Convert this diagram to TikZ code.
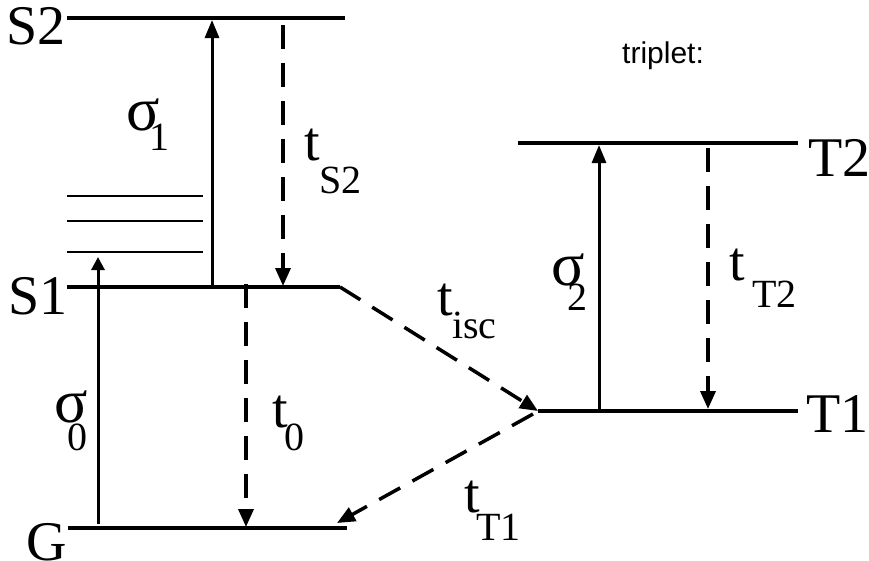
\documentclass[tikz,border=0pt]{standalone}
\usepackage{fontspec}
\setmainfont{Liberation Serif}
\newfontfamily\labsans{Liberation Sans}
\usetikzlibrary{arrows.meta}
\newcommand{\bigf}{\fontsize{56}{56}\selectfont}
\newcommand{\sigf}{\fontsize{62}{62}\selectfont}
\newcommand{\subf}{\fontsize{40}{40}\selectfont}
\newcommand{\lbl}[4]{\rlap{#1}\hspace*{#2pt}\raisebox{-#3pt}{\subf #4}}
\begin{document}
\begin{tikzpicture}[x=1pt,y=-1pt,
  level/.style={line width=3.5pt},
  vib/.style={line width=1.2pt},
  up/.style={line width=3pt,-{Triangle[length=18pt,width=14pt]}},
  upsmall/.style={line width=3pt,-{Triangle[length=13pt,width=13pt]}},
  down/.style={line width=3.5pt,dash pattern=on 24pt off 14pt,-{Triangle[length=18pt,width=15pt]}},
  txt/.style={inner sep=0pt,anchor=base west},
  txtr/.style={inner sep=0pt,anchor=base east}]
\useasboundingbox (0,0) rectangle (869,560);
% level end points
\coordinate (S2l) at (67,18);  \coordinate (S2r) at (345,18);
\coordinate (S1l) at (67,287); \coordinate (S1r) at (340,287);
\coordinate (Gl) at (68,528);  \coordinate (Gr) at (347,528);
\coordinate (T2l) at (518,143); \coordinate (T2r) at (798,143);
\coordinate (T1l) at (538,411); \coordinate (T1r) at (798,411);
\coordinate (V1l) at (67,196); \coordinate (V1r) at (203,196);
\coordinate (V2l) at (67,221); \coordinate (V2r) at (203,221);
\coordinate (V3l) at (67,252); \coordinate (V3r) at (203,252);
% levels
\draw[level] (S2l) -- (S2r);
\draw[level] (S1l) -- (S1r);
\draw[level] (Gl) -- (Gr);
\draw[level] (T2l) -- (T2r);
\draw[level] (T1l) -- (T1r);
\draw[vib] (V1l) -- (V1r);
\draw[vib] (V2l) -- (V2r);
\draw[vib] (V3l) -- (V3r);
% transition end points
\coordinate (a0s) at (98,524);  \coordinate (a0e) at (98,257);
\coordinate (a1s) at (212,287); \coordinate (a1e) at (212,20);
\coordinate (d2s) at (283,25);  \coordinate (d2e) at (283,286);
\coordinate (d0s) at (246,284); \coordinate (d0e) at (246,527);
\coordinate (dTs) at (533,414); \coordinate (dTe) at (337,523);
\coordinate (a2s) at (599,411); \coordinate (a2e) at (599,145);
\coordinate (dT2s) at (708,148); \coordinate (dT2e) at (708,409);
% transitions
\draw[upsmall] (a0s) -- (a0e);
\draw[up] (a1s) -- (a1e);
\draw[down] (d2s) -- (d2e);
\draw[down] (d0s) -- (d0e);
\draw[down] (S1r) -- (T1l);
\draw[down] (dTs) -- (dTe);
\draw[up] (a2s) -- (a2e);
\draw[down] (dT2s) -- (dT2e);
% level labels
\node[txtr] (lS2) at (66,44) {\bigf S2};
\node[txtr] (lS1) at (68,314) {\bigf S1};
\node[txtr] (lG) at (67,560) {\bigf G};
\node[txt] (lT2) at (808,176) {\bigf T2};
\node[txt] (lT1) at (806,432) {\bigf T1};
\node[txt] (ltrip) at (622,63) {\labsans\fontsize{30}{30}\selectfont triplet:};
% transition labels
\node[txt] (ls1) at (126,130) {\sigf\lbl{σ}{23}{20}{1}};
\node[txt] (ltS2) at (304,160) {\bigf\lbl{t}{15}{33}{S2}};
\node[txt] (ls0) at (54,422) {\sigf\lbl{σ}{13}{28}{0}};
\node[txt] (lt0) at (272,427) {\bigf\lbl{t}{12}{23}{0}};
\node[txt] (ltisc) at (437,315) {\bigf\lbl{t}{15}{23}{isc}};
\node[txt] (ltT1) at (464,512) {\bigf\lbl{t}{12}{28}{T1}};
\node[txt] (ls2) at (551,285) {\sigf\lbl{σ}{16}{25}{2}};
\node[txt] (ltT2) at (729,280) {\bigf\lbl{t}{23}{27}{T2}};
\end{tikzpicture}
\end{document}
